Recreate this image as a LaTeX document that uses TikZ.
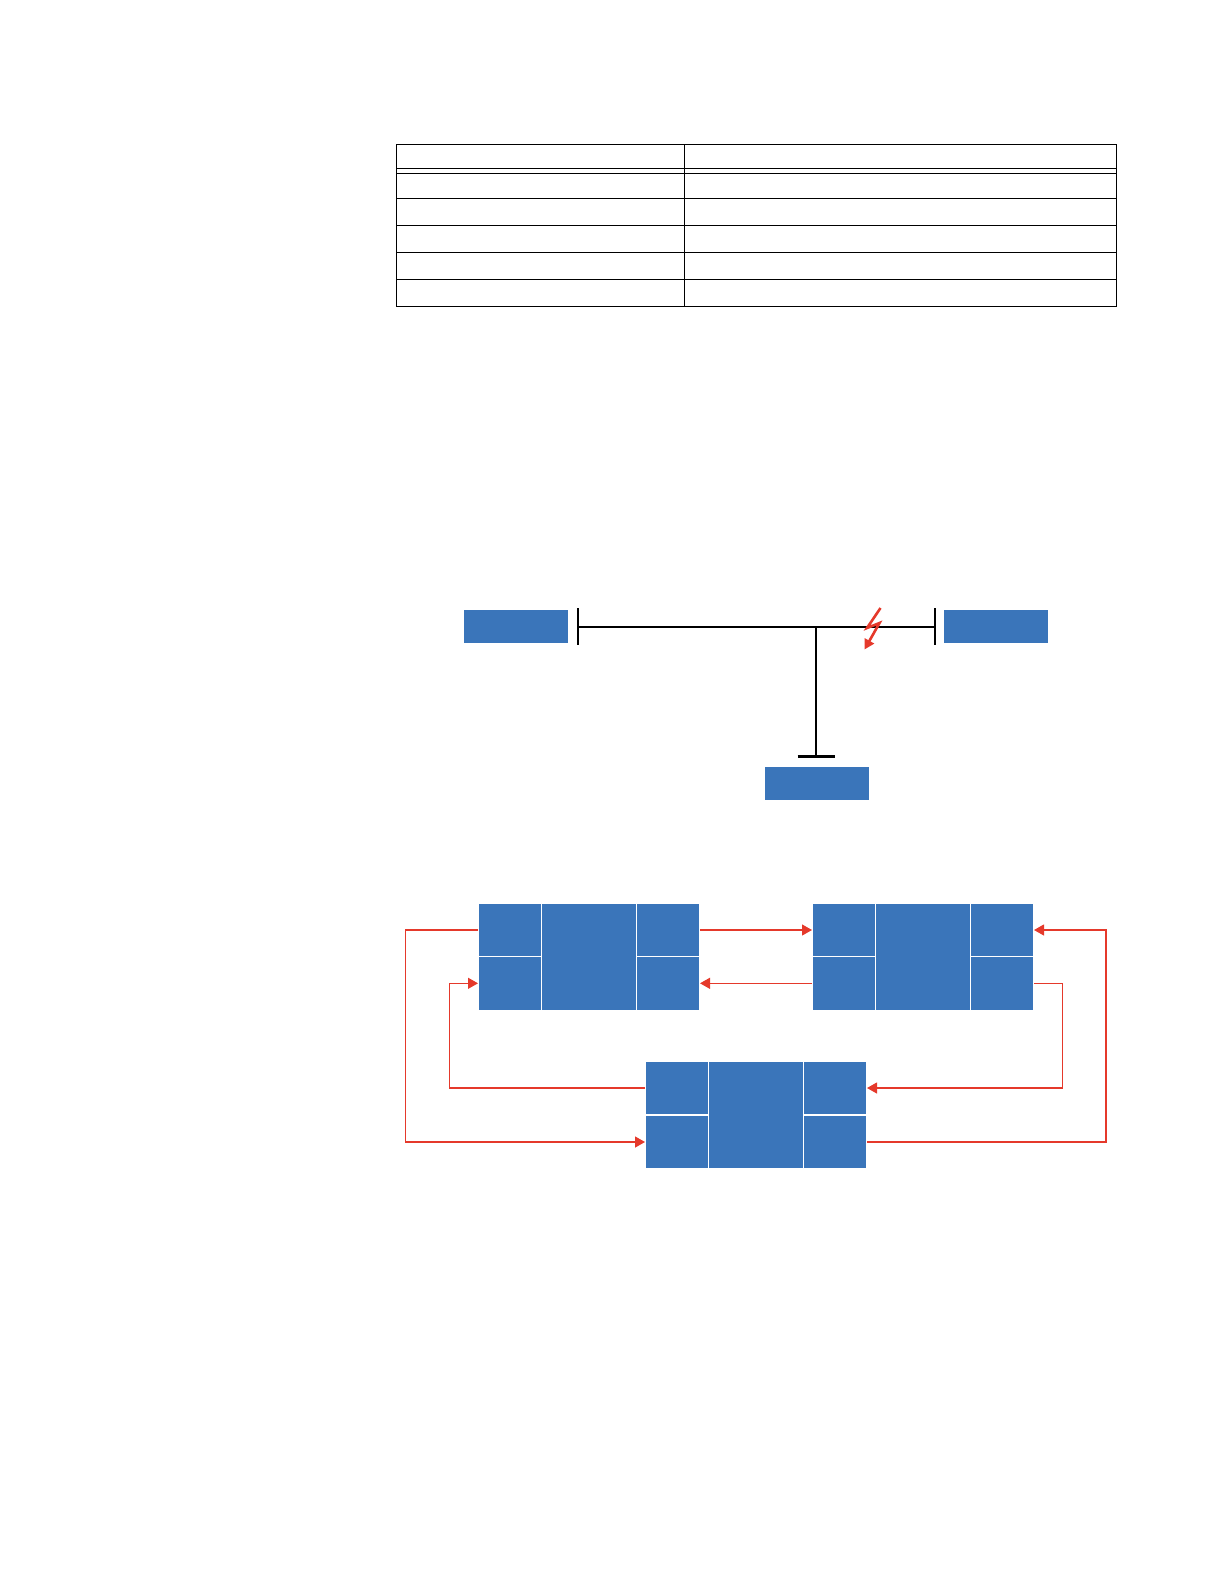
\documentclass[tikz,border=0pt]{standalone}
\usetikzlibrary{arrows.meta}
\definecolor{cellblue}{HTML}{3A75BA}
\definecolor{linkred}{HTML}{E5392B}
\tikzset{
  cell/.style={fill=cellblue,draw=none,inner sep=0pt,outer sep=0pt,anchor=north west},
  sidecell/.style={cell,minimum width=62pt,minimum height=52pt},
  midcell/.style={cell,minimum width=93.8pt,minimum height=106pt},
  ied/.style={cell,minimum width=104pt,minimum height=33.2pt},
  rule/.style={black,line width=1.1pt},
  bus/.style={black,line width=2.4pt},
  link/.style={linkred,line width=1.2pt,shorten <=0.8pt,shorten >=1pt,-{Triangle[length=10pt,width=11pt]}}
}
\newcommand{\relayblock}[4]{%
  \node[sidecell] (#1tl) at (#2,#3) {};
  \node[sidecell,minimum height=106pt-#4pt] (#1bl) at (#2,#3+#4) {};
  \node[midcell] (#1m) at (#2+62.7,#3) {};
  \node[sidecell] (#1tr) at (#2+158,#3) {};
  \node[sidecell,minimum height=106pt-#4pt] (#1br) at (#2+158,#3+#4) {};
}
\begin{document}
\begin{tikzpicture}[x=1pt,y=-1pt]
\useasboundingbox (0,0) rectangle (1224,1584);
% table
\draw[rule] (396.5,144.3) rectangle (1116.3,306.3);
\draw[rule] (684.8,144.3) -- (684.8,306.3);
\foreach \yy in {168.3,173.3,198.3,225.3,252.3,279.3}
  \draw[rule] (396.5,\yy) -- (1116.3,\yy);
% one-line network
\node[ied] (iedL) at (464,610) {};
\node[ied,minimum height=32.6pt] (iedR) at (944,610) {};
\node[ied] (iedB) at (764.7,767) {};
\coordinate (busLt) at (578,608);
\coordinate (busLb) at (578,644.5);
\coordinate (busRt) at (935,608);
\coordinate (busRb) at (935,644.5);
\coordinate (busBl) at (797.7,756.3);
\coordinate (busBr) at (834.7,756.3);
\coordinate (busBm) at (816.2,756.3);
\coordinate (busLm) at (578,626.7);
\coordinate (busRm) at (935,626.7);
\draw[bus] (busLt) -- (busLb);
\draw[bus] (busRt) -- (busRb);
\draw[bus] (busBl) -- (busBr);
\draw[bus] (busLm) -- (busRm);
\draw[bus] (busBm) -- (busBm |- busLm);
% fault symbol
\coordinate (fa) at (880.5,608);
\coordinate (fb) at (867,628);
\coordinate (fc) at (879.5,623);
\coordinate (fd) at (864.5,649.5);
\draw[linkred,line width=2.6pt,-{Triangle[length=10pt,width=10.5pt]}] (fa) -- (fb) -- (fc) -- (fd);
% relay blocks
\relayblock{A}{479}{904}{52.6}
\relayblock{B}{813}{904}{52.6}
\relayblock{C}{646}{1062}{54}
\coordinate (outerL) at (405.3,1000);
\coordinate (innerL) at (449.3,1000);
\coordinate (innerR) at (1062.7,1000);
\coordinate (outerR) at (1106,1000);
% connectors
\draw[link] (Atr.east) -- (Btl.west);
\draw[link] (Bbl.west) -- (Abr.east);
\draw[link] (Atl.west) -- (Atl.west -| outerL) -- (Cbl.west -| outerL) -- (Cbl.west);
\draw[link] (Ctl.west) -- (Ctl.west -| innerL) -- (Abl.west -| innerL) -- (Abl.west);
\draw[link] (Bbr.east) -- (Bbr.east -| innerR) -- (Ctr.east -| innerR) -- (Ctr.east);
\draw[link] (Cbr.east) -- (Cbr.east -| outerR) -- (Btr.east -| outerR) -- (Btr.east);
\end{tikzpicture}
\end{document}
